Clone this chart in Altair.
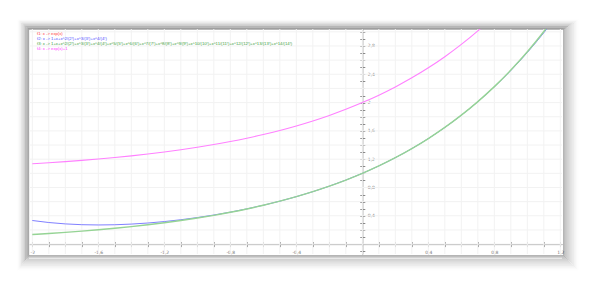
import altair as alt
import pandas as pd

# sample x positions
xs = [-2.0, -1.9, -1.8, -1.7, -1.6, -1.5, -1.4, -1.3, -1.2, -1.1, -1.0, -0.9, -0.8, -0.7, -0.6,
      -0.5, -0.4, -0.3, -0.2, -0.1, 0.0, 0.1, 0.2, 0.3, 0.4, 0.5, 0.6, 0.7, 0.8, 0.9, 1.0, 1.1, 1.2]

# f1: exp(x)
f1 = [0.1353, 0.1496, 0.1653, 0.1827, 0.2019, 0.2231, 0.2466, 0.2725, 0.3012, 0.3329, 0.3679,
      0.4066, 0.4493, 0.4966, 0.5488, 0.6065, 0.6703, 0.7408, 0.8187, 0.9048, 1.0, 1.1052,
      1.2214, 1.3499, 1.4918, 1.6487, 1.8221, 2.0138, 2.2255, 2.4596, 2.7183, 3.0042, 3.3201]
# f2: Taylor polynomial of degree 4
f2 = [0.3333, 0.3048, 0.2854, 0.2742, 0.2704, 0.2734, 0.2828, 0.2978, 0.3184, 0.3442, 0.3750,
      0.4108, 0.4518, 0.4978, 0.5494, 0.6068, 0.6704, 0.7408, 0.8187, 0.9048, 1.0, 1.1052,
      1.2214, 1.3498, 1.4917, 1.6484, 1.8214, 2.0122, 2.2224, 2.4538, 2.7083, 2.9878, 3.2944]
# f3: Taylor polynomial of degree 14
f3 = [0.1353, 0.1496, 0.1653, 0.1827, 0.2019, 0.2231, 0.2466, 0.2725, 0.3012, 0.3329, 0.3679,
      0.4066, 0.4493, 0.4966, 0.5488, 0.6065, 0.6703, 0.7408, 0.8187, 0.9048, 1.0, 1.1052,
      1.2214, 1.3499, 1.4918, 1.6487, 1.8221, 2.0138, 2.2255, 2.4596, 2.7183, 3.0042, 3.3201]
# f4: exp(x)+1
f4 = [1.1353, 1.1496, 1.1653, 1.1827, 1.2019, 1.2231, 1.2466, 1.2725, 1.3012, 1.3329, 1.3679,
      1.4066, 1.4493, 1.4966, 1.5488, 1.6065, 1.6703, 1.7408, 1.8187, 1.9048, 2.0, 2.1052,
      2.2214, 2.3499, 2.4918, 2.6487, 2.8221, 3.0138, 3.2255, 3.4596, 3.7183, 4.0042, 4.3201]

# drawing order: red (hidden underneath), blue, green, magenta
series_names = ["f1", "f2", "f3", "f4"]
series_colors = ["#ff7070", "#8080ff", "#95d495", "#ff80ff"]
series_widths = [0.6, 1.0, 1.4, 1.1]
series_opacity = [0.1, 1.0, 1.0, 1.0]

legend_texts = [
    "f1:  x -> exp(x)",
    "f2:  x -> 1+x+x^2/(2!)+x^3/(3!)+x^4/(4!)",
    "f3:  x -> 1+x+x^2/(2!)+x^3/(3!)+x^4/(4!)+x^5/(5!)+x^6/(6!)+x^7/(7!)+x^8/(8!)+x^9/(9!)+x^10/(10!)+x^11/(11!)+x^12/(12!)+x^13/(13!)+x^14/(14!)",
    "f4:  x -> exp(x)+1",
]
legend_colors = ["#ff4040", "#5050ff", "#40a040", "#ff40ff"]

x_major = [-2.0, -1.6, -1.2, -0.8, -0.4, 0.4, 0.8, 1.2]
y_major = [0.4, 0.8, 1.2, 1.6, 2.0, 2.4, 2.8]
x_minor = [round(-2.0 + 0.1 * i, 1) for i in range(33)]
y_minor = [round(-0.1 + 0.1 * i, 1) for i in range(32)]
y_grid = [round(-0.2 + 0.2 * i, 1) for i in range(17)]

W, H = 533, 225
XDOM = [-2.02, 1.21]
YDOM = [-0.14, 3.04]
x0_px = (0 - XDOM[0]) / (XDOM[1] - XDOM[0]) * W
y0_px = (0 - YDOM[0]) / (YDOM[1] - YDOM[0]) * H

data = {"func": [], "x": [], "y": [], "order": []}
for name, vals in zip(["f1", "f2", "f3", "f4"], [f1, f2, f3, f4]):
    for i, (a, b) in enumerate(zip(xs, vals)):
        data["func"].append(name)
        data["x"].append(a)
        data["y"].append(b)
        data["order"].append(i)
df = pd.DataFrame(data)

xscale = alt.Scale(domain=XDOM, nice=False, zero=False)
yscale = alt.Scale(domain=YDOM, nice=False, zero=False)

label_expr = "replace(replace(format(datum.value, '.1~f'), '.', ','), '\u2212', '-')"
axis_common = dict(domainColor="#8a8a8a", tickColor="#8a8a8a", labelColor="#777777",
                   labelFont="DejaVu Sans", labelFontSize=4.5, tickSize=2.5, domainWidth=1)

dummy = pd.DataFrame({"x": [0.0], "y": [0.0]})

# grid layers
grid_x = alt.Chart(pd.DataFrame({"g": x_minor})).mark_rule(color="#f2f2f2", strokeWidth=1).encode(
    x=alt.X("g:Q", scale=xscale, axis=None))
grid_y = alt.Chart(pd.DataFrame({"g": y_grid})).mark_rule(color="#f2f2f2", strokeWidth=1).encode(
    y=alt.Y("g:Q", scale=yscale, axis=None))

axes = alt.Chart(dummy).mark_point(opacity=0).encode(
    x=alt.X("x:Q", scale=xscale, title=None,
            axis=alt.Axis(orient="bottom", offset=-round(y0_px, 1), values=x_minor, labels=False,
                          grid=False, **axis_common)),
    y=alt.Y("y:Q", scale=yscale, title=None,
            axis=alt.Axis(orient="right", offset=-round(W - x0_px, 1), values=y_minor, labels=False,
                          grid=False, **axis_common)),
)
axes2 = alt.Chart(dummy).mark_point(opacity=0).encode(
    x=alt.X("x:Q", scale=xscale, title=None,
            axis=alt.Axis(orient="top", offset=-round(H - y0_px, 1), values=x_minor, labels=False,
                          grid=False, domain=False, **axis_common)),
    y=alt.Y("y:Q", scale=yscale, title=None,
            axis=alt.Axis(orient="left", offset=-round(x0_px, 1), values=y_minor, labels=False,
                          grid=False, domain=False, **axis_common)),
)
axes3 = alt.Chart(dummy).mark_point(opacity=0).encode(
    x=alt.X("x:Q", scale=xscale, title=None,
            axis=alt.Axis(orient="bottom", offset=-round(y0_px, 1), values=x_major, labelExpr=label_expr,
                          grid=False, domain=False, ticks=False, labelPadding=5, **axis_common)),
    y=alt.Y("y:Q", scale=yscale, title=None,
            axis=alt.Axis(orient="right", offset=-round(W - x0_px, 1), values=y_major, labelExpr=label_expr,
                          grid=False, domain=False, ticks=False, labelPadding=5, **axis_common)),
)

line_layers = []
for name, col, sw, op in zip(series_names, series_colors, series_widths, series_opacity):
    line_layers.append(
        alt.Chart(df).transform_filter(alt.datum.func == name).mark_line(
            clip=True, strokeWidth=sw, opacity=op, color=col, interpolate="monotone").encode(
            x=alt.X("x:Q", scale=xscale, axis=None),
            y=alt.Y("y:Q", scale=yscale, axis=None),
            order="order:Q",
        ))

legend_layers = []
for i, (t, c) in enumerate(zip(legend_texts, legend_colors)):
    legend_layers.append(
        alt.Chart(dummy).mark_text(text=t, color=c, align="left", baseline="middle",
                                   font="Liberation Sans", fontSize=4.2).encode(
            x=alt.value(8), y=alt.value(4.7 + 5 * i)))

# drop shadow rings around the frame (decoration)
rings = []
K = 15
for k in range(1, K + 1):
    op = 0.32 * (1 - (k - 1) / K) ** 1.6
    rings.append(alt.Chart(dummy).mark_rect(
        fillOpacity=0, stroke="black", strokeWidth=1, strokeOpacity=op, clip=False).encode(
        x=alt.value(-0.8 * k + 0.5), x2=alt.value(W + 1.1 * k + 0.5),
        y=alt.value(-0.7 * k + 1.0), y2=alt.value(H + 1.1 * k + 0.5)))

chart = alt.layer(*rings, grid_x, grid_y, *line_layers, axes, axes2, axes3, *legend_layers).properties(
    width=W, height=H,
    autosize=alt.AutoSizeParams(type="none"),
    padding={"left": 29, "top": 29, "right": 30, "bottom": 29},
    background="white",
).configure_view(stroke=None, fill="white")

chart.save("out.html", embed_options={"renderer": "svg", "actions": False})
